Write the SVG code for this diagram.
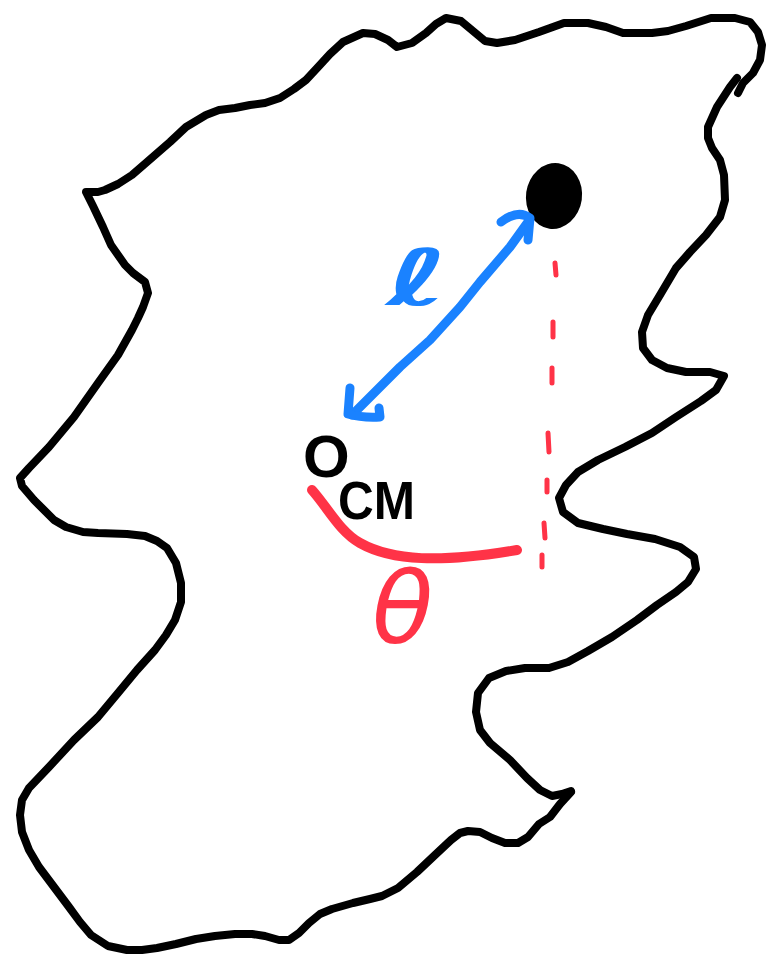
<svg xmlns="http://www.w3.org/2000/svg" width="768" height="954" viewBox="0 0 768 954">
<style>
.outline{fill:none;stroke:#000;stroke-width:8;stroke-linecap:round;stroke-linejoin:round}
.blue{fill:none;stroke:#1a82ff;stroke-width:9;stroke-linecap:round;stroke-linejoin:round}
.red{fill:none;stroke:#ff3347;stroke-width:10;stroke-linecap:round;stroke-linejoin:round}
.dash{fill:none;stroke:#ff3347;stroke-width:5;stroke-linecap:round}
</style>
<rect width="768" height="954" fill="#fff"/>
<g id="body">
<path class="outline" d="M738,93 L743,83 L753,73 L760,60 L762,45 L758,32 L750,22 L735,18 L711,18 L686,26 L668,31 L652,33 L623,33 L606,27 L588,23 L564,23 L539,32 L515,40 L497,43 L485,41 L473,31 L461,21 L446,18 L436,24 L426,33 L412,43 L397,47 L388,40 L375,34 L363,33 L343,42 L330,54 L319,66 L306,80 L294,89 L280,98 L265,103 L250,105 L235,108 L219,110 L206,115 L186,127 L170,142 L147,162 L132,175 L118,184 L105,190 L98,192 L86,192 L93,206 L103,227 L111,245 L118,255 L125,265 L133,273 L145,282 L148,293 L143,307 L138,318 L132,330 L118,355 L98,383 L74,417 L49,447 L29,468 L20,478 L22,486 L34,500 L54,520 L66,527 L83,532 L98,533 L127,534 L145,536 L157,541 L167,548 L176,563 L181,583 L181,602 L175,620 L166,635 L155,650 L137,670 L118,693 L98,717 L74,740 L49,767 L29,788 L22,800 L20,815 L22,832 L29,850 L39,867 L54,887 L69,907 L80,922 L91,935 L108,946 L127,950 L142,950 L157,948 L176,944 L196,939 L215,936 L235,934 L252,934 L265,936 L279,940 L289,940 L299,933 L309,923 L320,914 L332,909 L353,903 L370,899 L382,896 L398,888 L417,872 L435,855 L451,840 L460,833 L468,831 L480,832 L492,838 L505,843 L518,843 L528,837 L539,824 L550,817 L560,804 L571,792"/>
<path class="outline" d="M737,78 L730,87 L717,107 L708,127 L708,138 L712,148 L720,160 L724,175 L725,200 L720,217 L706,235 L690,252 L676,268 L660,295 L648,315 L642,332 L643,348 L652,360 L667,368 L686,372 L710,372 L724,376 L716,390 L701,401 L676,417 L652,433 L625,447 L598,460 L578,472 L566,485 L559,498 L563,512 L578,523 L603,529 L627,534 L655,539 L680,547 L694,557 L696,569 L688,582 L676,592 L657,605 L637,620 L612,637 L588,651 L568,662 L549,668 L525,668 L506,671 L489,678 L478,693 L476,712 L480,730 L490,743 L510,760 L527,778 L540,790 L552,796 L562,794 L571,791"/>
</g>
<g id="mass">
<ellipse cx="554" cy="196" rx="28" ry="33" fill="#000" transform="rotate(8 554 196)"/>
</g>
<g id="cm-label">
<text x="303" y="477" font-family="Liberation Sans, sans-serif" font-weight="bold" fill="#000"><tspan font-size="60">O</tspan><tspan x="338" y="519" font-size="54" textLength="77" lengthAdjust="spacingAndGlyphs">CM</tspan></text>
</g>
<g id="connectors">
<path class="blue" d="M528,222 L510,247 L480,282 L460,307 L430,340 L400,367 L377,390 L352,415"/>
<path class="blue" d="M501,222 Q518,209 530,218 L528,240"/>
<path class="blue" d="M350,388 L348,414 Q362,418 380,417 L379,408"/>
<path class="red" d="M312,490 C328,508 340,532 360,543 C392,561 440,563 517,550"/>
<path class="dash" d="M555,263 L556,275 M553,322 L553,337 M552,368 L552,383 M548,433 L549,452 M547,480 L547,492 M544,523 L545,538 M542,555 L542,567"/>
</g>
<g id="labels">
<text transform="translate(386 305) scale(1.7 1)" x="0" y="0" font-family="DejaVu Sans, sans-serif" font-style="italic" font-weight="bold" font-size="78" fill="#1a82ff">ℓ</text>
<text x="372" y="643" font-family="DejaVu Sans, sans-serif" font-style="italic" font-size="100" fill="#ff3347">θ</text>
</g>
</svg>
